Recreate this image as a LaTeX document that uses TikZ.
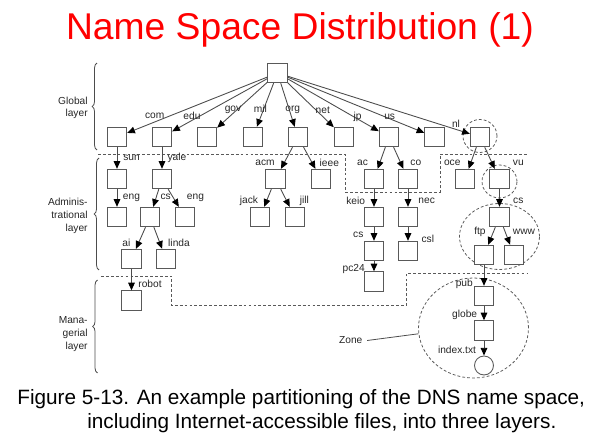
\documentclass[tikz,border=0pt]{standalone}
\usepackage{fontspec}
\setmainfont{Liberation Sans}
\usetikzlibrary{arrows.meta, shapes.geometric, decorations.pathreplacing}
\tikzstyle{arrow} = [black!70, line width=0.5pt, -{Triangle[length=4.4pt, width=3.8pt, color=black]}]
\newcommand{\lblfont}{\fontsize{5.8}{7.2}\selectfont}

\begin{document}
\begin{tikzpicture}[x=0.02cm, y=-0.02cm,
    box/.style={draw=black!65, fill=white, line width=0.5pt, minimum size=3.9mm, inner sep=0pt},
    leaf/.style={circle, draw=black!65, fill=white, line width=0.5pt, minimum size=3.8mm, inner sep=0pt},
    lbl/.style={font=\lblfont, text=black!85, inner sep=0pt},
    layer/.style={font=\lblfont, text=black!85, align=right, anchor=east, inner sep=0pt},
    bound/.style={black!65, line width=0.45pt, dash pattern=on 1.6pt off 1.2pt},
    zone/.style={ellipse, draw=black!65, line width=0.45pt, dash pattern=on 1.6pt off 1.2pt, inner sep=0pt},
    brace/.style={black!70, line width=0.45pt, decorate, decoration={brace, amplitude=2.8pt}},
    caption/.style={font=\fontsize{11.8}{14}\selectfont, text=black, inner sep=0pt, anchor=base west}]
  \useasboundingbox (0,0) rectangle (600,436);

  % Title
  \node[font=\fontsize{21.2}{24}\selectfont, text=red, inner sep=0pt] (title) at (300,30) {Name Space Distribution (1)};

  % Zones (dashed circles)
  \node[zone, minimum width=6.8mm, minimum height=6.6mm] (nlzone) at (480,136) {};
  \node[zone, minimum width=7mm, minimum height=6.6mm] (vuzone) at (499.5,181.5) {};
  \node[zone, minimum width=16mm, minimum height=13.2mm] (cszone) at (499.5,236.5) {};
  \node[zone, minimum width=22mm, minimum height=20mm] (zone) at (473.5,328) {};

  % Layer boundaries
  \draw[bound] (98,154) -- (345,154) -- (345,192) -- (440,192) -- (440,154) -- (528,154);
  \draw[bound] (101,276) -- (171.5,276) -- (171.5,305.5) -- (406.5,305.5) -- (406.5,273.5) -- (528,273.5);

  % Nodes
  \node[box] (root) at (277.5,73) {};
  \foreach \n/\x in {com/117, edu/162, gov/207, mil/253, org/298, net/344, jp/389, us/434.5, nl/480}
    \node[box] (\n) at (\x,137) {};
  \foreach \n/\x in {sun/117, yale/162, acm/275.5, ieee/321, ac/374, co/408, oce/465, vu/499.5}
    \node[box] (\n) at (\x,179) {};
  \foreach \n/\x in {eng1/117, cs1/150, eng2/185, jack/260, jill/295, keio/374, nec/408, cs3/499.5}
    \node[box] (\n) at (\x,217) {};
  \node[box] (ai) at (131.5,259) {};
  \node[box] (linda) at (166,259) {};
  \node[box] (cs2) at (374,251) {};
  \node[box] (csl) at (408,251) {};
  \node[box] (ftp) at (484,255) {};
  \node[box] (www) at (514,255) {};
  \node[box] (robot) at (131.5,300.5) {};
  \node[box] (pc24) at (374,281.5) {};
  \node[box] (pub) at (484,296) {};
  \node[box] (globe) at (484,330.5) {};
  \node[leaf] (idx) at (484,365.5) {};

  % Edges
  \foreach \a/\b in {root/com, root/edu, root/gov, root/mil, root/org, root/net, root/jp, root/us, root/nl,
                     com/sun, edu/yale, org/acm, org/ieee, jp/ac, jp/co, nl/oce, nl/vu,
                     sun/eng1, yale/cs1, yale/eng2, acm/jack, acm/jill, ac/keio, co/nec, vu/cs3,
                     cs1/ai, cs1/linda, keio/cs2, nec/csl, cs3/ftp, cs3/www,
                     ai/robot, cs2/pc24, ftp/pub, pub/globe, globe/idx}
    \draw[arrow] (\a) -- (\b);

  % Edge labels
  \foreach \n/\t/\x/\y in {com/com/154.7/116.3, edu/edu/192/115.5, gov/gov/233/110, mil/mil/260.3/109,
                           org/org/292.8/110, net/net/322.8/110, jp/jp/357.5/116.7, us/us/389.7/117,
                           nl/nl/456/124,
                           sun/sun/131.5/158.3, yale/yale/177/157.8, acm/acm/265/163.3, ieee/ieee/329.3/163.3,
                           ac/ac/362.5/163.3, co/co/415.8/163.3, oce/oce/452.3/163.3, vu/vu/518.3/163.3,
                           eng1/eng/131.5/197.5, cs1/cs/165.7/197, eng2/eng/195.5/197.5, jack/jack/249/200.8,
                           jill/jill/304.3/200.8, keio/keio/355.7/201, nec/nec/426.7/201, cs3/cs/518.3/201,
                           ai/ai/126.3/242.5, linda/linda/179/242.5, cs2/cs/358.3/234.5, csl/csl/427.8/239,
                           ftp/ftp/480/231.7, www/www/524/231.7,
                           robot/robot/150/284, pc24/pc24/353.7/269, pub/pub/464.3/284,
                           globe/globe/464.7/315, idx/index.txt/457/350}
    \node[lbl] (l-\n) at (\x,\y) {\t};

  % Zone label
  \node[lbl, inner sep=2.5pt] (zonelbl) at (350.8,340.5) {Zone};
  \draw[black!70, line width=0.45pt] (zonelbl.east) -- (zone.186);

  % Layers
  \draw[brace] (97,150) -- (97,63);
  \draw[brace] (99,270) -- (99,158);
  \draw[brace] (97.5,373) -- (97.5,280);
  \node[layer] (global) at (88,108) {Global\\layer};
  \node[layer] (admin) at (88,216) {Adminis-\\trational\\layer};
  \node[layer] (manage) at (88,334) {Mana-\\gerial\\layer};

  % Caption
  \node[caption] (cap1) at (17,405) {Figure 5-13. An example partitioning of the DNS name space,};
  \node[caption] (cap2) at (87,429) {including Internet-accessible files, into three layers.};
\end{tikzpicture}
\end{document}
